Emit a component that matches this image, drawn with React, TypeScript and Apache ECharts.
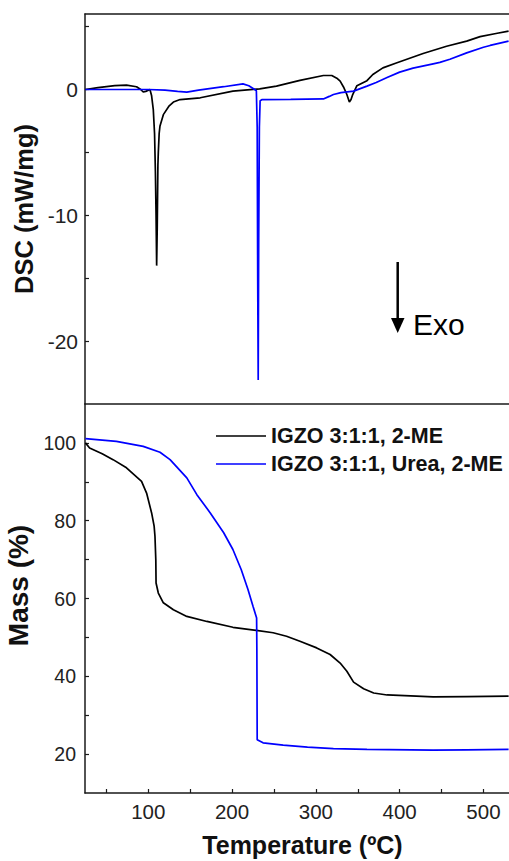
import React, { useEffect, useRef } from "react";
import * as echarts from "echarts";

const seriesNames = ["IGZO 3:1:1, 2-ME", "IGZO 3:1:1, Urea, 2-ME"];
const seriesColors = ["#000000", "#0000ff"];

// DSC (mW/mg) vs temperature (°C)
const dscBlack: number[][] = [
  [25, 0], [40, 0.15], [60, 0.3], [74, 0.34], [86, 0.22], [91, 0], [94, -0.2], [97, -0.15],
  [102, 0], [104, -0.5], [106, -1.6], [107.5, -3.5], [108.5, -6.5], [109.3, -10], [110, -14.0],
  [110.7, -11], [111.5, -6], [112, -5], [113, -3.5], [114, -2.9], [118, -2.0], [125, -1.3],
  [130, -1.0], [138, -0.8], [162, -0.66], [201, -0.13], [233, 0.05], [253, 0.27], [281, 0.72],
  [309, 1.11], [319, 1.11], [325, 0.9], [329, 0.66], [333, 0.2], [337, -0.4], [340, -1.0],
  [342, -0.8], [344, -0.4], [349, 0.3], [361, 0.7], [368, 1.19], [380, 1.72], [396, 2.1],
  [428, 2.86], [456, 3.44], [480, 3.84], [496, 4.2], [515, 4.45], [530, 4.64],
];
const dscBlue: number[][] = [
  [25, 0], [60, 0], [100, 0], [120, -0.05], [135, -0.15], [146, -0.21], [160, -0.05], [190, 0.22],
  [213, 0.45], [220, 0.3], [227, 0], [229, -0.1], [230, -3], [230.6, -15], [231.2, -23.1],
  [231.8, -12], [232.6, -3], [233.5, -0.9], [236, -0.8], [270, -0.78], [309, -0.75], [316, -0.55],
  [321, -0.4], [330, -0.25], [345, -0.13], [361, 0.27], [372, 0.55], [385, 0.95], [400, 1.38],
  [416, 1.7], [440, 2.04], [448, 2.15], [460, 2.4], [480, 2.91], [500, 3.36], [508, 3.5], [530, 3.84],
];

// Mass (%) vs temperature (°C)
const massBlack: number[][] = [
  [25, 100], [30, 98.7], [45, 97.2], [58, 95.7], [74, 93.6], [92, 90.1], [98, 87.1], [104, 82],
  [107, 78.6], [108, 76], [109, 70], [109.3, 64], [112, 61.4], [118, 58.9], [130, 57.1],
  [146, 55.4], [170, 54.1], [201, 52.6], [229, 51.8], [249, 51.2], [265, 50.3], [281, 49],
  [301, 47.3], [317, 45.6], [329, 43.4], [337, 41.3], [345, 38.5], [357, 36.8], [369, 35.7],
  [385, 35.2], [420, 34.9], [440, 34.7], [480, 34.8], [530, 34.9],
];
const massBlue: number[][] = [
  [25, 101.1], [62, 100.4], [94, 99.1], [114, 97.6], [126, 95.7], [146, 91], [158, 86.7],
  [174, 82], [190, 76.9], [201, 72.6], [211, 67.4], [219, 62.3], [225, 58], [229.3, 55],
  [229.6, 46.9], [230, 23.7], [237, 22.9], [261, 22.3], [290, 21.8], [321, 21.4], [361, 21.2],
  [440, 21], [480, 21.1], [530, 21.2],
];

const xTicks = [50, 100, 150, 200, 250, 300, 350, 400, 450, 500];
const xLabels = [100, 200, 300, 400, 500];
const dscTicks = [-20, -15, -10, -5, 0, 5];
const dscLabels = [-20, -10, 0];
const massTicks = [20, 30, 40, 50, 60, 70, 80, 90, 100];
const massLabels = [20, 40, 60, 80, 100];

const FONT = "'Liberation Sans', Arial, sans-serif";
const AX = "#1a1a1a";

export default function App() {
  const ref = useRef<HTMLDivElement>(null);
  useEffect(() => {
    if (!ref.current) return;
    const chart = echarts.init(ref.current, null, { renderer: "svg" });
    const axisLine = { show: true, onZero: false, lineStyle: { color: AX, width: 1.5 } };
    const xBase = { type: "value", min: 24.5, max: 530.5, splitLine: { show: false } };
    const line = (name: string, color: string, data: number[][], xi: number, yi: number) => ({
      type: "line",
      name,
      data,
      xAxisIndex: xi,
      yAxisIndex: yi,
      showSymbol: false,
      symbol: "none",
      lineStyle: { color, width: 1.7 },
      itemStyle: { color },
    });
    chart.setOption({
      animation: false,
      textStyle: { fontFamily: FONT },
      grid: [
        { left: 85, top: 14, right: 0, height: 390, containLabel: false, outerBoundsMode: "none" },
        { left: 85, top: 404, right: 0, height: 389, containLabel: false, outerBoundsMode: "none" },
      ],
      xAxis: [
        { ...xBase, gridIndex: 0, axisLine, axisTick: { show: false }, axisLabel: { show: false } },
        {
          ...xBase,
          gridIndex: 1,
          axisLine,
          axisTick: { show: true, inside: true, length: 4, customValues: xTicks, lineStyle: { color: AX, width: 1.2 } },
          axisLabel: { customValues: xLabels, fontSize: 20.5, color: "#222", margin: 8, fontFamily: FONT },
          name: "Temperature (ºC)",
          nameLocation: "middle",
          nameGap: 39,
          nameTextStyle: { fontSize: 25, fontWeight: "bold", color: "#111", fontFamily: FONT, padding: [0, 0, 0, 11] },
        },
        { ...xBase, gridIndex: 0, position: "top", axisLine, axisTick: { show: false }, axisLabel: { show: false } },
      ],
      yAxis: [
        {
          type: "value",
          gridIndex: 0,
          min: -25,
          max: 6,
          splitLine: { show: false },
          axisLine,
          axisTick: { show: true, inside: true, length: 4, customValues: dscTicks, lineStyle: { color: AX, width: 1.2 } },
          axisLabel: { customValues: dscLabels, fontSize: 21, color: "#222", margin: 7, fontFamily: FONT },
          name: "DSC (mW/mg)",
          nameLocation: "middle",
          nameGap: 46,
          nameTextStyle: { fontSize: 25.5, fontWeight: "bold", color: "#111", fontFamily: FONT },
        },
        {
          type: "value",
          gridIndex: 1,
          min: 10,
          max: 110,
          splitLine: { show: false },
          axisLine,
          axisTick: { show: true, inside: true, length: 4, customValues: massTicks, lineStyle: { color: AX, width: 1.2 } },
          axisLabel: { customValues: massLabels, fontSize: 19.5, color: "#222", margin: 9, fontFamily: FONT },
          name: "Mass (%)",
          nameLocation: "middle",
          nameGap: 50,
          nameTextStyle: { fontSize: 28, fontWeight: "bold", color: "#111", fontFamily: FONT, padding: [0, 0, 0, 26] },
        },
      ],
      legend: {
        data: seriesNames,
        orient: "vertical",
        left: 211,
        top: 420,
        itemWidth: 50,
        itemHeight: 1.5,
        itemGap: 6,
        icon: "rect",
        textStyle: { fontSize: 21.5, fontWeight: "bold", color: "#111", fontFamily: FONT },
      },
      series: [
        line(seriesNames[0], seriesColors[0], dscBlack, 0, 0),
        line(seriesNames[1], seriesColors[1], dscBlue, 0, 0),
        line(seriesNames[0], seriesColors[0], massBlack, 1, 1),
        line(seriesNames[1], seriesColors[1], massBlue, 1, 1),
      ],
      graphic: [
        { type: "line", shape: { x1: 397.7, y1: 262, x2: 397.7, y2: 320 }, style: { stroke: "#000", lineWidth: 2.5 } },
        { type: "polygon", shape: { points: [[391, 318], [404.5, 318], [397.7, 333]] }, style: { fill: "#000" } },
        {
          type: "text",
          x: 413,
          y: 324,
          style: { text: "Exo", fontSize: 30, fontFamily: FONT, fill: "#000", verticalAlign: "middle", align: "left" },
        },
      ],
    });
    return () => chart.dispose();
  }, []);
  return <div ref={ref} style={{ position: "absolute", left: 0, top: 0, width: 509, height: 861 }} />;
}
